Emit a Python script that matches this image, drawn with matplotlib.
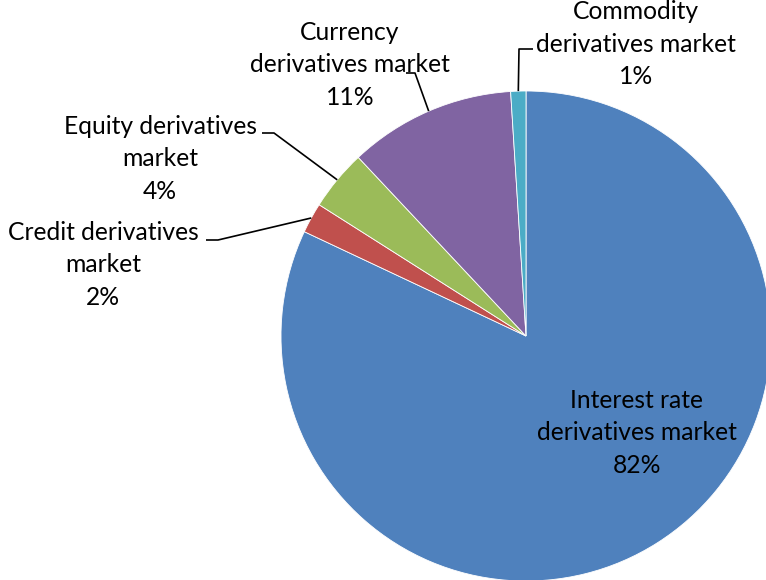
import numpy as np
import matplotlib
matplotlib.use('Agg')
import matplotlib.pyplot as plt

# Данные
labels = ['Interest rate\nderivatives market', 'Credit derivatives\nmarket',
          'Equity derivatives\nmarket', 'Currency\nderivatives market',
          'Commodity\nderivatives market']
shares = [82, 2, 4, 11, 1]
colors = ['#4F81BD', '#C0504D', '#9BBB59', '#8064A2', '#4BACC6']

W, H = 766, 580
plt.rcParams['font.family'] = ['Lato', 'DejaVu Sans']

fig = plt.figure(figsize=(W / 100, H / 100), dpi=100)
ax = fig.add_axes([0, 0, 1, 1])
ax.set_axis_off()

cx, cy, R = 526, H - 336, 245
wedges, _ = ax.pie(shares, colors=colors, startangle=90, counterclock=False,
                   center=(cx, cy), radius=R,
                   wedgeprops=dict(edgecolor='white', linewidth=0.6))
ax.set_xlim(0, W)
ax.set_ylim(0, H)
ax.set_aspect('equal')

# Подписи: (x, y) центра текста в пикселях, точка начала выноски
label_pos = [(637, 433), (103, 265), (160, 159), (350, 65), (636, 44)]
hook = [None, (206, 218, 240), (262, 274, 133), (406, 415, 73), (533, 519, 49)]

for i, (lab, val) in enumerate(zip(labels, shares)):
    x, y = label_pos[i]
    ax.text(x, H - y, f'{lab}\n{val}%', ha='center', va='center',
            fontsize=17.7, linespacing=1.52, color='black')
    if hook[i] is None:
        continue
    # середина сектора на краю круга
    mid = 90 - 360 * (sum(shares[:i]) + val / 2) / 100
    ex = cx + R * np.cos(np.radians(mid))
    ey = cy + R * np.sin(np.radians(mid))
    x0, x1, yy = hook[i]
    ax.plot([x0, x1, ex], [H - yy, H - yy, ey], color='black', lw=1.2,
            solid_capstyle='butt')

fig.savefig('out.png', dpi=100)
